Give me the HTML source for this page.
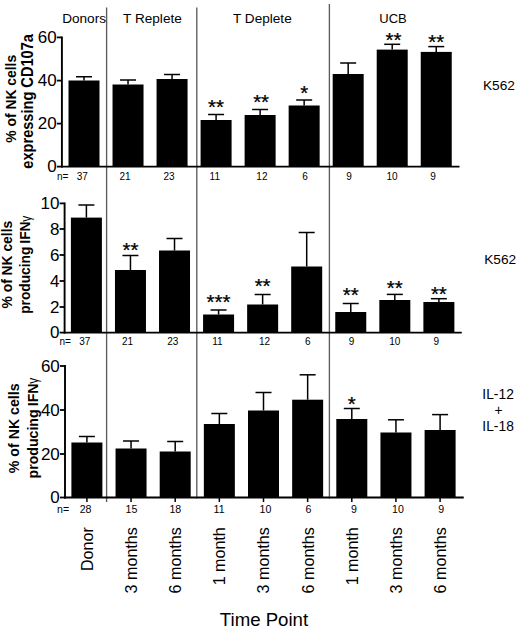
<!DOCTYPE html>
<html><head><meta charset="utf-8"><title>Figure</title>
<style>html,body{margin:0;padding:0;background:#fff}svg{display:block}</style></head>
<body>
<svg xmlns="http://www.w3.org/2000/svg" width="520" height="629" viewBox="0 0 520 629" font-family='"Liberation Sans", sans-serif' fill="#000">
<rect width="520" height="629" fill="#fff"/>
<line x1="106.6" y1="7.5" x2="106.6" y2="502" stroke="#5c5c5c" stroke-width="1.35"/>
<line x1="196.8" y1="7.5" x2="196.8" y2="498.4" stroke="#5c5c5c" stroke-width="1.35"/>
<line x1="329.4" y1="4" x2="329.4" y2="498.4" stroke="#5c5c5c" stroke-width="1.35"/>
<text x="62.2" y="22.5" font-size="13.6">Donors</text>
<text x="123.1" y="22.5" font-size="13.6">T Replete</text>
<text x="233" y="22.5" font-size="13.6">T Deplete</text>
<text x="379.3" y="22.5" font-size="13.0">UCB</text>
<rect x="68.50" y="80.5" width="31" height="86.10"/>
<line x1="84.00" y1="80.5" x2="84.00" y2="76.75" stroke="#000" stroke-width="1.5"/>
<line x1="76.00" y1="76.75" x2="92.00" y2="76.75" stroke="#000" stroke-width="1.5"/>
<rect x="112.53" y="84.5" width="31" height="82.10"/>
<line x1="128.03" y1="84.5" x2="128.03" y2="80" stroke="#000" stroke-width="1.5"/>
<line x1="120.03" y1="80" x2="136.03" y2="80" stroke="#000" stroke-width="1.5"/>
<rect x="156.56" y="79" width="31" height="87.60"/>
<line x1="172.06" y1="79" x2="172.06" y2="74.5" stroke="#000" stroke-width="1.5"/>
<line x1="164.06" y1="74.5" x2="180.06" y2="74.5" stroke="#000" stroke-width="1.5"/>
<rect x="200.59" y="120" width="31" height="46.60"/>
<line x1="216.09" y1="120" x2="216.09" y2="114.5" stroke="#000" stroke-width="1.5"/>
<line x1="208.09" y1="114.5" x2="224.09" y2="114.5" stroke="#000" stroke-width="1.5"/>
<text x="216.09" y="114.33" font-size="20.5" text-anchor="middle" stroke="#000" stroke-width="0.25">**</text>
<rect x="244.62" y="115" width="31" height="51.60"/>
<line x1="260.12" y1="115" x2="260.12" y2="109.5" stroke="#000" stroke-width="1.5"/>
<line x1="252.12" y1="109.5" x2="268.12" y2="109.5" stroke="#000" stroke-width="1.5"/>
<text x="261.12" y="108.83" font-size="20.5" text-anchor="middle" stroke="#000" stroke-width="0.25">**</text>
<rect x="288.65" y="105.5" width="31" height="61.10"/>
<line x1="304.15" y1="105.5" x2="304.15" y2="100" stroke="#000" stroke-width="1.5"/>
<line x1="296.15" y1="100" x2="312.15" y2="100" stroke="#000" stroke-width="1.5"/>
<text x="304.15" y="100.33" font-size="20.5" text-anchor="middle" stroke="#000" stroke-width="0.25">*</text>
<rect x="332.68" y="74" width="31" height="92.60"/>
<line x1="348.18" y1="74" x2="348.18" y2="63" stroke="#000" stroke-width="1.5"/>
<line x1="340.18" y1="63" x2="356.18" y2="63" stroke="#000" stroke-width="1.5"/>
<rect x="376.71" y="49.6" width="31" height="117.00"/>
<line x1="392.21" y1="49.6" x2="392.21" y2="44.3" stroke="#000" stroke-width="1.5"/>
<line x1="384.21" y1="44.3" x2="400.21" y2="44.3" stroke="#000" stroke-width="1.5"/>
<text x="393.41" y="47.03" font-size="20.5" text-anchor="middle" stroke="#000" stroke-width="0.25">**</text>
<rect x="420.74" y="51.9" width="31" height="114.70"/>
<line x1="436.24" y1="51.9" x2="436.24" y2="46.6" stroke="#000" stroke-width="1.5"/>
<line x1="428.24" y1="46.6" x2="444.24" y2="46.6" stroke="#000" stroke-width="1.5"/>
<text x="436.24" y="48.63" font-size="20.5" text-anchor="middle" stroke="#000" stroke-width="0.25">**</text>
<line x1="61.9" y1="36.5" x2="61.9" y2="167.5" stroke="#000" stroke-width="1.9"/>
<line x1="61.0" y1="166.6" x2="459.5" y2="166.6" stroke="#000" stroke-width="1.8"/>
<line x1="56.9" y1="37.4" x2="61.9" y2="37.4" stroke="#000" stroke-width="1.8"/>
<text x="56.699999999999996" y="43.1" font-size="17" text-anchor="end">60</text>
<line x1="56.9" y1="80.6" x2="61.9" y2="80.6" stroke="#000" stroke-width="1.8"/>
<text x="56.699999999999996" y="86.3" font-size="17" text-anchor="end">40</text>
<line x1="56.9" y1="123.6" x2="61.9" y2="123.6" stroke="#000" stroke-width="1.8"/>
<text x="56.699999999999996" y="129.29999999999998" font-size="17" text-anchor="end">20</text>
<line x1="56.9" y1="166.6" x2="61.9" y2="166.6" stroke="#000" stroke-width="1.8"/>
<text x="56.699999999999996" y="172.29999999999998" font-size="17" text-anchor="end">0</text>
<text x="57" y="180.2" font-size="10">n=</text>
<text x="82.25" y="180.2" font-size="10" text-anchor="middle">37</text>
<text x="125" y="180.2" font-size="10" text-anchor="middle">21</text>
<text x="169" y="180.2" font-size="10" text-anchor="middle">23</text>
<text x="214.8" y="180.2" font-size="10" text-anchor="middle">11</text>
<text x="261.9" y="180.2" font-size="10" text-anchor="middle">12</text>
<text x="305" y="180.2" font-size="10" text-anchor="middle">6</text>
<text x="349.1" y="180.2" font-size="10" text-anchor="middle">9</text>
<text x="392" y="180.2" font-size="10" text-anchor="middle">10</text>
<text x="433" y="180.2" font-size="10" text-anchor="middle">9</text>
<rect x="70.90" y="217.6" width="31" height="115.00"/>
<line x1="86.40" y1="217.6" x2="86.40" y2="205" stroke="#000" stroke-width="1.5"/>
<line x1="78.40" y1="205" x2="94.40" y2="205" stroke="#000" stroke-width="1.5"/>
<rect x="114.96" y="270" width="31" height="62.60"/>
<line x1="130.46" y1="270" x2="130.46" y2="255.5" stroke="#000" stroke-width="1.5"/>
<line x1="122.46" y1="255.5" x2="138.46" y2="255.5" stroke="#000" stroke-width="1.5"/>
<text x="130.46" y="257.43" font-size="20.5" text-anchor="middle" stroke="#000" stroke-width="0.25">**</text>
<rect x="159.02" y="250.5" width="31" height="82.10"/>
<line x1="174.52" y1="250.5" x2="174.52" y2="238.5" stroke="#000" stroke-width="1.5"/>
<line x1="166.52" y1="238.5" x2="182.52" y2="238.5" stroke="#000" stroke-width="1.5"/>
<rect x="203.08" y="314.5" width="31" height="18.10"/>
<line x1="218.58" y1="314.5" x2="218.58" y2="310" stroke="#000" stroke-width="1.5"/>
<line x1="210.58" y1="310" x2="226.58" y2="310" stroke="#000" stroke-width="1.5"/>
<text x="218.58" y="309.23" font-size="20.5" text-anchor="middle" stroke="#000" stroke-width="0.25">***</text>
<rect x="247.14" y="304.5" width="31" height="28.10"/>
<line x1="262.64" y1="304.5" x2="262.64" y2="294.5" stroke="#000" stroke-width="1.5"/>
<line x1="254.64" y1="294.5" x2="270.64" y2="294.5" stroke="#000" stroke-width="1.5"/>
<text x="262.64" y="292.83" font-size="20.5" text-anchor="middle" stroke="#000" stroke-width="0.25">**</text>
<rect x="291.20" y="266.5" width="31" height="66.10"/>
<line x1="306.70" y1="266.5" x2="306.70" y2="232.5" stroke="#000" stroke-width="1.5"/>
<line x1="298.70" y1="232.5" x2="314.70" y2="232.5" stroke="#000" stroke-width="1.5"/>
<rect x="335.26" y="312" width="31" height="20.60"/>
<line x1="350.76" y1="312" x2="350.76" y2="303.5" stroke="#000" stroke-width="1.5"/>
<line x1="342.76" y1="303.5" x2="358.76" y2="303.5" stroke="#000" stroke-width="1.5"/>
<text x="350.76" y="302.03" font-size="20.5" text-anchor="middle" stroke="#000" stroke-width="0.25">**</text>
<rect x="379.32" y="300" width="31" height="32.60"/>
<line x1="394.82" y1="300" x2="394.82" y2="294.4" stroke="#000" stroke-width="1.5"/>
<line x1="386.82" y1="294.4" x2="402.82" y2="294.4" stroke="#000" stroke-width="1.5"/>
<text x="394.82" y="295.23" font-size="20.5" text-anchor="middle" stroke="#000" stroke-width="0.25">**</text>
<rect x="423.38" y="302" width="31" height="30.60"/>
<line x1="438.88" y1="302" x2="438.88" y2="298.7" stroke="#000" stroke-width="1.5"/>
<line x1="430.88" y1="298.7" x2="446.88" y2="298.7" stroke="#000" stroke-width="1.5"/>
<text x="438.88" y="301.23" font-size="20.5" text-anchor="middle" stroke="#000" stroke-width="0.25">**</text>
<line x1="64.6" y1="202.5" x2="64.6" y2="333.5" stroke="#000" stroke-width="1.9"/>
<line x1="63.699999999999996" y1="332.6" x2="461.75" y2="332.6" stroke="#000" stroke-width="1.8"/>
<line x1="59.599999999999994" y1="203.4" x2="64.6" y2="203.4" stroke="#000" stroke-width="1.8"/>
<text x="59.39999999999999" y="209.1" font-size="17" text-anchor="end">10</text>
<line x1="59.599999999999994" y1="229" x2="64.6" y2="229" stroke="#000" stroke-width="1.8"/>
<text x="59.39999999999999" y="234.7" font-size="17" text-anchor="end">8</text>
<line x1="59.599999999999994" y1="255" x2="64.6" y2="255" stroke="#000" stroke-width="1.8"/>
<text x="59.39999999999999" y="260.7" font-size="17" text-anchor="end">6</text>
<line x1="59.599999999999994" y1="281" x2="64.6" y2="281" stroke="#000" stroke-width="1.8"/>
<text x="59.39999999999999" y="286.7" font-size="17" text-anchor="end">4</text>
<line x1="59.599999999999994" y1="307" x2="64.6" y2="307" stroke="#000" stroke-width="1.8"/>
<text x="59.39999999999999" y="312.7" font-size="17" text-anchor="end">2</text>
<line x1="59.599999999999994" y1="332.6" x2="64.6" y2="332.6" stroke="#000" stroke-width="1.8"/>
<text x="59.39999999999999" y="338.3" font-size="17" text-anchor="end">0</text>
<text x="59.5" y="344.6" font-size="10">n=</text>
<text x="84.75" y="344.6" font-size="10" text-anchor="middle">37</text>
<text x="127.5" y="344.6" font-size="10" text-anchor="middle">21</text>
<text x="172.75" y="344.6" font-size="10" text-anchor="middle">23</text>
<text x="217.5" y="344.6" font-size="10" text-anchor="middle">11</text>
<text x="264.6" y="344.6" font-size="10" text-anchor="middle">12</text>
<text x="307.7" y="344.6" font-size="10" text-anchor="middle">6</text>
<text x="351.6" y="344.6" font-size="10" text-anchor="middle">9</text>
<text x="394.75" y="344.6" font-size="10" text-anchor="middle">10</text>
<text x="436.25" y="344.6" font-size="10" text-anchor="middle">9</text>
<rect x="71.40" y="442.5" width="31" height="55.00"/>
<line x1="86.90" y1="442.5" x2="86.90" y2="436.5" stroke="#000" stroke-width="1.5"/>
<line x1="78.90" y1="436.5" x2="94.90" y2="436.5" stroke="#000" stroke-width="1.5"/>
<line x1="86.90" y1="497.5" x2="86.90" y2="502.0" stroke="#000" stroke-width="1.5"/>
<rect x="115.55" y="448.5" width="31" height="49.00"/>
<line x1="131.05" y1="448.5" x2="131.05" y2="441" stroke="#000" stroke-width="1.5"/>
<line x1="123.05" y1="441" x2="139.05" y2="441" stroke="#000" stroke-width="1.5"/>
<line x1="131.05" y1="497.5" x2="131.05" y2="502.0" stroke="#000" stroke-width="1.5"/>
<rect x="159.70" y="451.5" width="31" height="46.00"/>
<line x1="175.20" y1="451.5" x2="175.20" y2="441.5" stroke="#000" stroke-width="1.5"/>
<line x1="167.20" y1="441.5" x2="183.20" y2="441.5" stroke="#000" stroke-width="1.5"/>
<line x1="175.20" y1="497.5" x2="175.20" y2="502.0" stroke="#000" stroke-width="1.5"/>
<rect x="203.85" y="424" width="31" height="73.50"/>
<line x1="219.35" y1="424" x2="219.35" y2="413.5" stroke="#000" stroke-width="1.5"/>
<line x1="211.35" y1="413.5" x2="227.35" y2="413.5" stroke="#000" stroke-width="1.5"/>
<line x1="219.35" y1="497.5" x2="219.35" y2="502.0" stroke="#000" stroke-width="1.5"/>
<rect x="248.00" y="410.5" width="31" height="87.00"/>
<line x1="263.50" y1="410.5" x2="263.50" y2="392.5" stroke="#000" stroke-width="1.5"/>
<line x1="255.50" y1="392.5" x2="271.50" y2="392.5" stroke="#000" stroke-width="1.5"/>
<line x1="263.50" y1="497.5" x2="263.50" y2="502.0" stroke="#000" stroke-width="1.5"/>
<rect x="292.15" y="399.7" width="31" height="97.80"/>
<line x1="307.65" y1="399.7" x2="307.65" y2="374.8" stroke="#000" stroke-width="1.5"/>
<line x1="299.65" y1="374.8" x2="315.65" y2="374.8" stroke="#000" stroke-width="1.5"/>
<line x1="307.65" y1="497.5" x2="307.65" y2="502.0" stroke="#000" stroke-width="1.5"/>
<rect x="336.30" y="419" width="31" height="78.50"/>
<line x1="351.80" y1="419" x2="351.80" y2="408.5" stroke="#000" stroke-width="1.5"/>
<line x1="343.80" y1="408.5" x2="359.80" y2="408.5" stroke="#000" stroke-width="1.5"/>
<text x="351.80" y="410.83" font-size="20.5" text-anchor="middle" stroke="#000" stroke-width="0.25">*</text>
<line x1="351.80" y1="497.5" x2="351.80" y2="502.0" stroke="#000" stroke-width="1.5"/>
<rect x="380.45" y="432.5" width="31" height="65.00"/>
<line x1="395.95" y1="432.5" x2="395.95" y2="419.8" stroke="#000" stroke-width="1.5"/>
<line x1="387.95" y1="419.8" x2="403.95" y2="419.8" stroke="#000" stroke-width="1.5"/>
<line x1="395.95" y1="497.5" x2="395.95" y2="502.0" stroke="#000" stroke-width="1.5"/>
<rect x="424.60" y="430" width="31" height="67.50"/>
<line x1="440.10" y1="430" x2="440.10" y2="414.6" stroke="#000" stroke-width="1.5"/>
<line x1="432.10" y1="414.6" x2="448.10" y2="414.6" stroke="#000" stroke-width="1.5"/>
<line x1="440.10" y1="497.5" x2="440.10" y2="502.0" stroke="#000" stroke-width="1.5"/>
<line x1="65" y1="365.1" x2="65" y2="498.4" stroke="#000" stroke-width="1.9"/>
<line x1="64.1" y1="497.5" x2="463.75" y2="497.5" stroke="#000" stroke-width="1.8"/>
<line x1="60" y1="366" x2="65" y2="366" stroke="#000" stroke-width="1.8"/>
<text x="59.8" y="371.7" font-size="17" text-anchor="end">60</text>
<line x1="60" y1="410" x2="65" y2="410" stroke="#000" stroke-width="1.8"/>
<text x="59.8" y="415.7" font-size="17" text-anchor="end">40</text>
<line x1="60" y1="454" x2="65" y2="454" stroke="#000" stroke-width="1.8"/>
<text x="59.8" y="459.7" font-size="17" text-anchor="end">20</text>
<line x1="60" y1="497.5" x2="65" y2="497.5" stroke="#000" stroke-width="1.8"/>
<text x="59.8" y="503.2" font-size="17" text-anchor="end">0</text>
<text x="57" y="512.6" font-size="10.6">n=</text>
<text x="85.6" y="512.6" font-size="10.6" text-anchor="middle">28</text>
<text x="131.4" y="512.6" font-size="10.6" text-anchor="middle">15</text>
<text x="175.3" y="512.6" font-size="10.6" text-anchor="middle">18</text>
<text x="219.1" y="512.6" font-size="10.6" text-anchor="middle">11</text>
<text x="265.4" y="512.6" font-size="10.6" text-anchor="middle">10</text>
<text x="308.5" y="512.6" font-size="10.6" text-anchor="middle">6</text>
<text x="354" y="512.6" font-size="10.6" text-anchor="middle">9</text>
<text x="398" y="512.6" font-size="10.6" text-anchor="middle">10</text>
<text x="441.25" y="512.6" font-size="10.6" text-anchor="middle">9</text>
<text transform="translate(16.3,98.8) scale(1.09,1) rotate(-90)" font-size="13.9" font-weight="bold" text-anchor="middle" >% of NK cells</text>
<text transform="translate(33.0,101.4) scale(1.1,1) rotate(-90)" font-size="14.6" font-weight="bold" text-anchor="middle" >expressing CD107a</text>
<text transform="translate(12.3,264.65) scale(1.09,1) rotate(-90)" font-size="13.85" font-weight="bold" text-anchor="middle" >% of NK cells</text>
<text transform="translate(30.4,221.5) scale(1.13,1) rotate(-90)" font-size="13.75" font-weight="bold" text-anchor="end" word-spacing="-0.8">producing IFN</text>
<text transform="translate(31.2,221.8) rotate(-90) scale(0.85,1)" font-size="14">γ</text>
<text transform="translate(19.4,428.3) scale(1.09,1) rotate(-90)" font-size="14.2" font-weight="bold" text-anchor="middle" >% of NK cells</text>
<text transform="translate(37.6,383.5) scale(1.07,1) rotate(-90)" font-size="14.15" font-weight="bold" text-anchor="end" word-spacing="-0.8">producing IFN</text>
<text transform="translate(38.4,383.7) rotate(-90) scale(0.85,1)" font-size="14">γ</text>
<text x="482.9" y="90.2" font-size="13.7">K562</text>
<text x="484.2" y="263.5" font-size="13.7">K562</text>
<text x="498.1" y="399.2" font-size="13.8" text-anchor="middle">IL-12</text>
<text x="498.5" y="414.5" font-size="13.8" text-anchor="middle">+</text>
<text x="498.1" y="430.5" font-size="13.8" text-anchor="middle">IL-18</text>
<text transform="translate(92.80,527.2) rotate(-90)" font-size="16.1" text-anchor="end">Donor</text>
<text transform="translate(136.95,527.2) rotate(-90)" font-size="16.1" text-anchor="end">3 months</text>
<text transform="translate(181.10,527.2) rotate(-90)" font-size="16.1" text-anchor="end">6 months</text>
<text transform="translate(225.25,527.2) rotate(-90)" font-size="16.1" text-anchor="end">1 month</text>
<text transform="translate(269.40,527.2) rotate(-90)" font-size="16.1" text-anchor="end">3 months</text>
<text transform="translate(313.55,527.2) rotate(-90)" font-size="16.1" text-anchor="end">6 months</text>
<text transform="translate(357.70,527.2) rotate(-90)" font-size="16.1" text-anchor="end">1 month</text>
<text transform="translate(401.85,527.2) rotate(-90)" font-size="16.1" text-anchor="end">3 months</text>
<text transform="translate(446.00,527.2) rotate(-90)" font-size="16.1" text-anchor="end">6 months</text>
<text transform="translate(219.8,625.5) scale(1.036,1)" font-size="18">Time Point</text>
</svg>
</body></html>
